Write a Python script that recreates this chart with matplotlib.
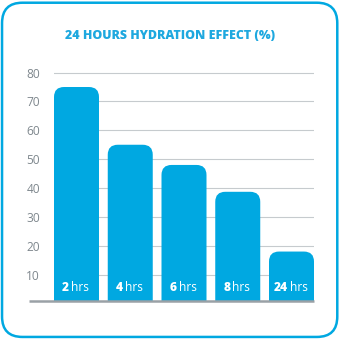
import matplotlib
matplotlib.use("Agg")
import matplotlib.pyplot as plt
from matplotlib.patches import FancyBboxPatch
from matplotlib.offsetbox import TextArea, HPacker, AnnotationBbox
import numpy as np

hours = ["2", "4", "6", "8", "24"]
effect = [75, 55, 48, 38.7, 18]
yticks = [10, 20, 30, 40, 50, 60, 70, 80]

BLUE = "#00a8e1"
FONT = "Open Sans"

fig = plt.figure(figsize=(3.4, 3.4), dpi=100)

# rounded frame around the whole card
frame = FancyBboxPatch((0.006, 0.009), 0.986, 0.983,
                       boxstyle="round,pad=0,rounding_size=0.06",
                       transform=fig.transFigure, facecolor="none",
                       edgecolor=BLUE, linewidth=1.8, zorder=5)
fig.patches.append(frame)

fig.text(0.5, 0.893, "24 HOURS HYDRATION EFFECT (%)", ha="center", va="center",
         color="#1ea8df", fontsize=8.9, fontweight="heavy", family=FONT)

ax = fig.add_axes([54 / 340, 39 / 340, 260 / 340, 234.2 / 340])
ax.set_xlim(-0.4186, 4.4186)
ax.set_ylim(0.87, 82)

x = np.arange(len(hours))
width = 45 / 53.75
bars = ax.bar(x, effect, width=width, color=BLUE, zorder=2)

# swap plain rectangles for ones with rounded tops
px_x = 53.75
px_y = 234.2 / (82 - 0.87)
r = 10 / px_x
aspect = (10 / px_y) / r
for rect in bars:
    x0, w, h = rect.get_x(), rect.get_width(), rect.get_height()
    p = FancyBboxPatch((x0, -10), w, h + 10,
                       boxstyle=f"round,pad=0,rounding_size={r}",
                       mutation_aspect=aspect, facecolor=BLUE,
                       edgecolor="none", zorder=2)
    ax.add_patch(p)
    rect.set_visible(False)

for xi, hr in zip(x, hours):
    num = TextArea(hr, textprops=dict(color="white", fontsize=8.6,
                                      fontweight="heavy", family=FONT))
    unit = TextArea("hrs", textprops=dict(color="white", fontsize=8.6, family=FONT))
    box = HPacker(children=[num, unit], pad=0, sep=1.5, align="baseline")
    ab = AnnotationBbox(box, (xi - 0.02, 5.6), xycoords="data",
                        box_alignment=(0.5, 0.5), frameon=False, pad=0, zorder=3)
    ax.add_artist(ab)

ax.set_yticks(yticks)
ax.set_yticklabels([str(t) for t in yticks], family=FONT, fontsize=8.6, color="#7e878d")
ax.set_xticks([])
ax.tick_params(axis="y", length=0, pad=10)
ax.grid(axis="y", color="#c6cbce", linewidth=0.8, zorder=0)
ax.set_axisbelow(True)
for s in ax.spines.values():
    s.set_visible(False)

# baseline extends left under the tick labels
ax.plot([-0.88, 4.4186], [0.87, 0.87], color="#9aa1a6", linewidth=1.8,
        clip_on=False, zorder=4, solid_capstyle="butt")

fig.savefig("out.png", dpi=100)
